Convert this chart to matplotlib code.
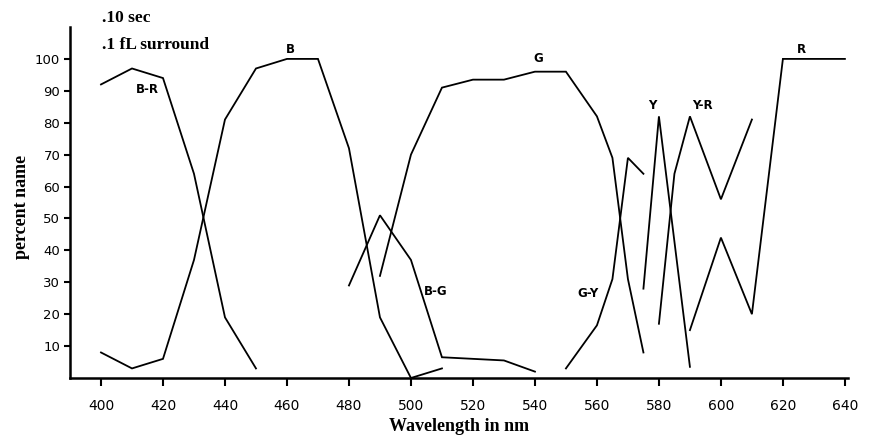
import matplotlib
matplotlib.use("Agg")
import matplotlib.pyplot as plt

# ---- data ----
br_wl = [400, 410, 420, 430, 440, 450]
br_pct = [92, 97, 94, 64, 19, 3]

b_wl = [400, 410, 420, 430, 440, 450, 460, 470, 480, 490, 500, 510]
b_pct = [8, 3, 6, 37, 81, 97, 100, 100, 72, 19, 0, 3]

bg_wl = [480, 490, 500, 510, 520, 530, 540]
bg_pct = [29, 51, 37, 6.5, 6, 5.5, 2]

g_wl = [490, 500, 510, 520, 530, 540, 550, 560, 565, 570, 575]
g_pct = [32, 70, 91, 93.5, 93.5, 96, 96, 82, 69, 31, 8]

gy_wl = [550, 560, 565, 570, 575]
gy_pct = [3, 16.5, 31, 69, 64]

y_wl = [575, 580, 590]
y_pct = [28, 82, 3.5]

yr_wl = [580, 585, 590, 600, 610]
yr_pct = [17, 64, 82, 56, 81]

r_wl = [590, 600, 610, 620, 630, 640]
r_pct = [15, 44, 20, 100, 100, 100]

curve_labels = ["B-R", "B", "G", "B-G", "G-Y", "Y", "Y-R", "R"]
label_wl = [415, 461, 541, 508, 557, 578, 594, 626]
label_pct = [90.5, 103, 100, 27, 26.5, 85.5, 85.5, 103]

x_ticks = [400, 420, 440, 460, 480, 500, 520, 540, 560, 580, 600, 620, 640]
x_ticklabels = ["400", "420", "440", "460", "480", "500", "520", "540", "560",
                "580", "600", "620", "640"]
y_ticks = [10, 20, 30, 40, 50, 60, 70, 80, 90, 100]

# ---- figure ----
fig = plt.figure(figsize=(8.71, 4.37), dpi=100)
ax = fig.add_axes([70 / 871, 59 / 437, 778 / 871, 351 / 437])

lw = 1.3
for wl, pct in [(br_wl, br_pct), (b_wl, b_pct), (bg_wl, bg_pct), (g_wl, g_pct),
                (gy_wl, gy_pct), (y_wl, y_pct), (yr_wl, yr_pct), (r_wl, r_pct)]:
    ax.plot(wl, pct, color="black", lw=lw, solid_joinstyle="miter")

for t, x, y in zip(curve_labels, label_wl, label_pct):
    ax.text(x, y, t, fontsize=8.5, fontweight="semibold", family="DejaVu Sans",
            ha="center", va="center")

ax.set_xlim(390, 641)
ax.set_ylim(0, 110)
ax.set_xticks(x_ticks)
ax.set_xticklabels(x_ticklabels)
ax.set_yticks(y_ticks)

for s in ["top", "right"]:
    ax.spines[s].set_visible(False)
for s in ["left", "bottom"]:
    ax.spines[s].set_linewidth(1.8)

ax.tick_params(axis="x", direction="out", length=6, width=1.5, labelsize=10, pad=9)
ax.tick_params(axis="y", direction="out", length=4, width=1.5, labelsize=9.5, pad=3)

ax.set_xlabel("Wavelength in nm", fontsize=13, fontweight="bold",
              family="Liberation Serif", labelpad=4)
ax.set_ylabel("percent name", fontsize=13, fontweight="bold",
              family="Liberation Serif", labelpad=3)
ax.yaxis.set_label_coords(-0.052, 0.487)

fig.text(102 / 871, 1 - 18 / 437, ".10 sec", fontsize=12.5, fontweight="bold",
         family="Liberation Serif", ha="left", va="center")
fig.text(102 / 871, 1 - 45 / 437, ".1 fL surround", fontsize=12.5, fontweight="bold",
         family="Liberation Serif", ha="left", va="center")

fig.savefig("out.png", dpi=100)
